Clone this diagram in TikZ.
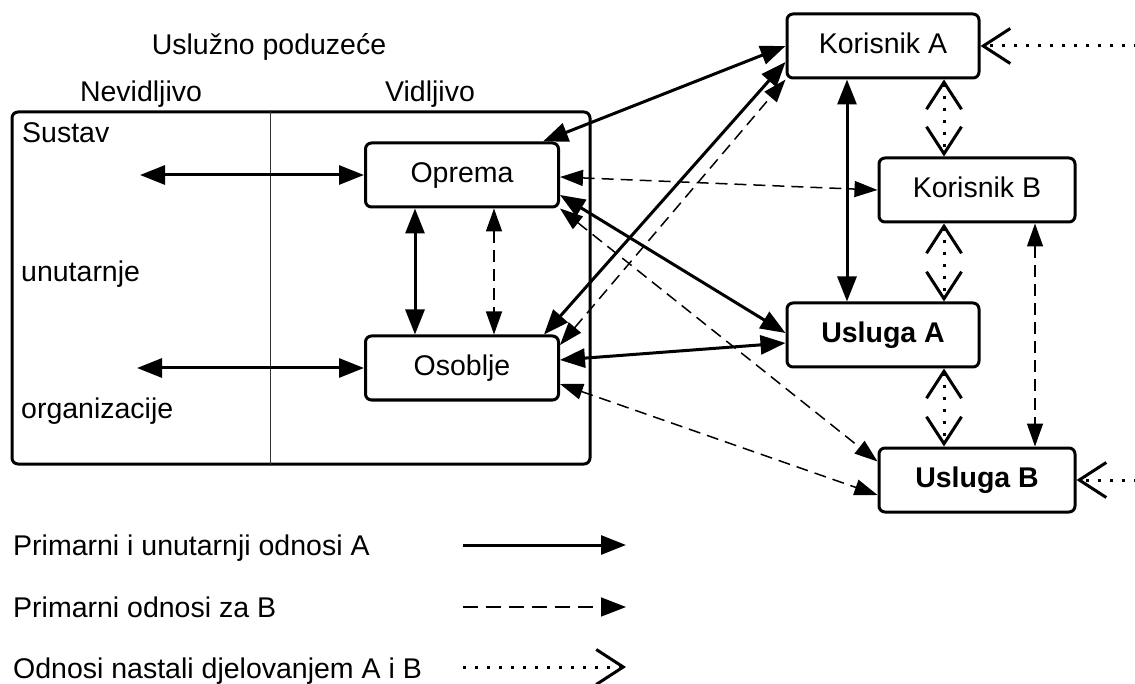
\documentclass[tikz,border=0pt]{standalone}
\usepackage{fontspec}
\setmainfont{Liberation Sans}
\usetikzlibrary{arrows.meta,calc}
\newcommand\myfs{\fontsize{28.5}{34}\selectfont}
\begin{document}
\begin{tikzpicture}[x=1pt,y=-1pt,
  box/.style={draw,line width=3pt,rounded corners=6pt,minimum width=192pt,minimum height=64pt,inner sep=0pt,text height=20.5pt,text depth=6pt,font=\myfs},
  lbl/.style={inner sep=0pt,font=\myfs},
  tri/.tip={Triangle[length=25pt,width=19pt]},
  dtri/.tip={Triangle[length=23pt,width=16pt]},
  barb/.tip={Straight Barb[length=27pt,width=35pt,line width=3pt]},
  solidarr/.style={line width=3pt,tri-tri},
  solidone/.style={line width=3pt,-tri},
  dasharr/.style={line width=1.5pt,dash pattern=on 12pt off 7pt,dtri-dtri},
  dotarr/.style={line width=3pt,dash pattern=on 3pt off 9pt,barb-barb},
  dotone/.style={line width=3pt,dash pattern=on 3pt off 9pt,-barb}
]
\useasboundingbox (0,0) rectangle (1135,684);
% outer system box
\node[draw,line width=3pt,rounded corners=6pt,minimum width=578pt,minimum height=352pt,inner sep=0pt] (sys) at (301,288) {};
\draw[line width=1pt,black!80] ([xshift=-31pt]sys.north) -- ([xshift=-31pt]sys.south);
% titles
\node[lbl,anchor=base] (t1) at (269,55) {Uslužno poduzeće};
\node[lbl,anchor=base] (t2) at (141,102) {Nevidljivo};
\node[lbl,anchor=base] (t3) at (430,102) {Vidljivo};
\node[lbl,anchor=base west] (s1) at (22,143) {Sustav};
\node[lbl,anchor=base west] (s2) at (21,282) {unutarnje};
\node[lbl,anchor=base west] (s3) at (21,418) {organizacije};
% boxes
\node[box,minimum width=193pt] (op) at (462,175) {Oprema};
\node[box,minimum width=193pt] (os) at (462,368) {Osoblje};
\node[box] (ka) at (883,46) {Korisnik A};
\node[box,minimum width=196pt] (kb) at (977,190) {Korisnik B};
\node[box,font=\myfs\bfseries] (ua) at (883,335) {Usluga A};
\node[box,minimum width=196pt,font=\myfs\bfseries] (ub) at (977,480) {Usluga B};
% free ends
\coordinate (l1) at (140,175);
\coordinate (l2) at (137,368);
\coordinate (ra) at (1137,46);
\coordinate (rb) at (1137,480);
% left arrows
\draw[solidarr] (l1) -- (op.west);
\draw[solidarr] (l2) -- (os.west);
% inner verticals
\draw[solidarr] ([xshift=-47pt]op.south) -- ([xshift=-47pt]os.north);
\draw[dasharr] ([xshift=32pt]op.south) -- ([xshift=32pt]os.north);
% diagonals
\draw[solidarr] ([xshift=-17pt]op.north east) -- (ka.west);
\draw[solidarr] ([xshift=-16pt]os.north east) -- ([yshift=-16pt]ka.west);
\draw[dasharr] ([yshift=23pt]os.east) -- (ka.south west);
\draw[dasharr] ([yshift=-2pt]op.east) -- (kb.west);
\draw[solidarr] ([yshift=-20pt]op.east) -- ([yshift=2pt]ua.west);
\draw[dasharr] (op.south east) -- ([yshift=-15pt]ub.north west);
\draw[solidarr] ([yshift=8pt]os.east) -- ([yshift=-8pt]ua.west);
\draw[dasharr] ([yshift=-16pt]os.east) -- ([yshift=-15pt]ub.west);
% right side verticals
\draw[solidarr] ([xshift=-36pt]ka.south) -- ([xshift=-36pt]ua.north);
\draw[dotarr] ([xshift=61pt]ka.south) -- ([xshift=-33pt]kb.north);
\draw[dotarr] ([xshift=-33pt]kb.south) -- ([xshift=61pt]ua.north);
\draw[dotarr] ([xshift=61pt]ua.south) -- ([xshift=-33pt]ub.north);
\draw[dasharr] ([xshift=58pt]kb.south) -- ([xshift=58pt]ub.north);
\draw[dotone] (ra) -- (ka.east);
\draw[dotone] (rb) -- (ub.east);
% legend
\node[lbl,anchor=base west] (g1) at (13,555) {Primarni i unutarnji odnosi A};
\node[lbl,anchor=base west] (g2) at (13,617) {Primarni odnosi za B};
\node[lbl,anchor=base west] (g3) at (13,678) {Odnosi nastali djelovanjem A i B};
\coordinate (a1) at (463,545); \coordinate (b1) at (626,545);
\coordinate (a2) at (463,607); \coordinate (b2) at (626,607);
\coordinate (a3) at (463,667); \coordinate (b3) at (626,667);
\draw[solidone] (a1) -- (b1);
\draw[line width=1.5pt,dash pattern=on 15pt off 8pt,-tri] (a2) -- (b2);
\draw[dotone] (a3) -- (b3);
\end{tikzpicture}
\end{document}
